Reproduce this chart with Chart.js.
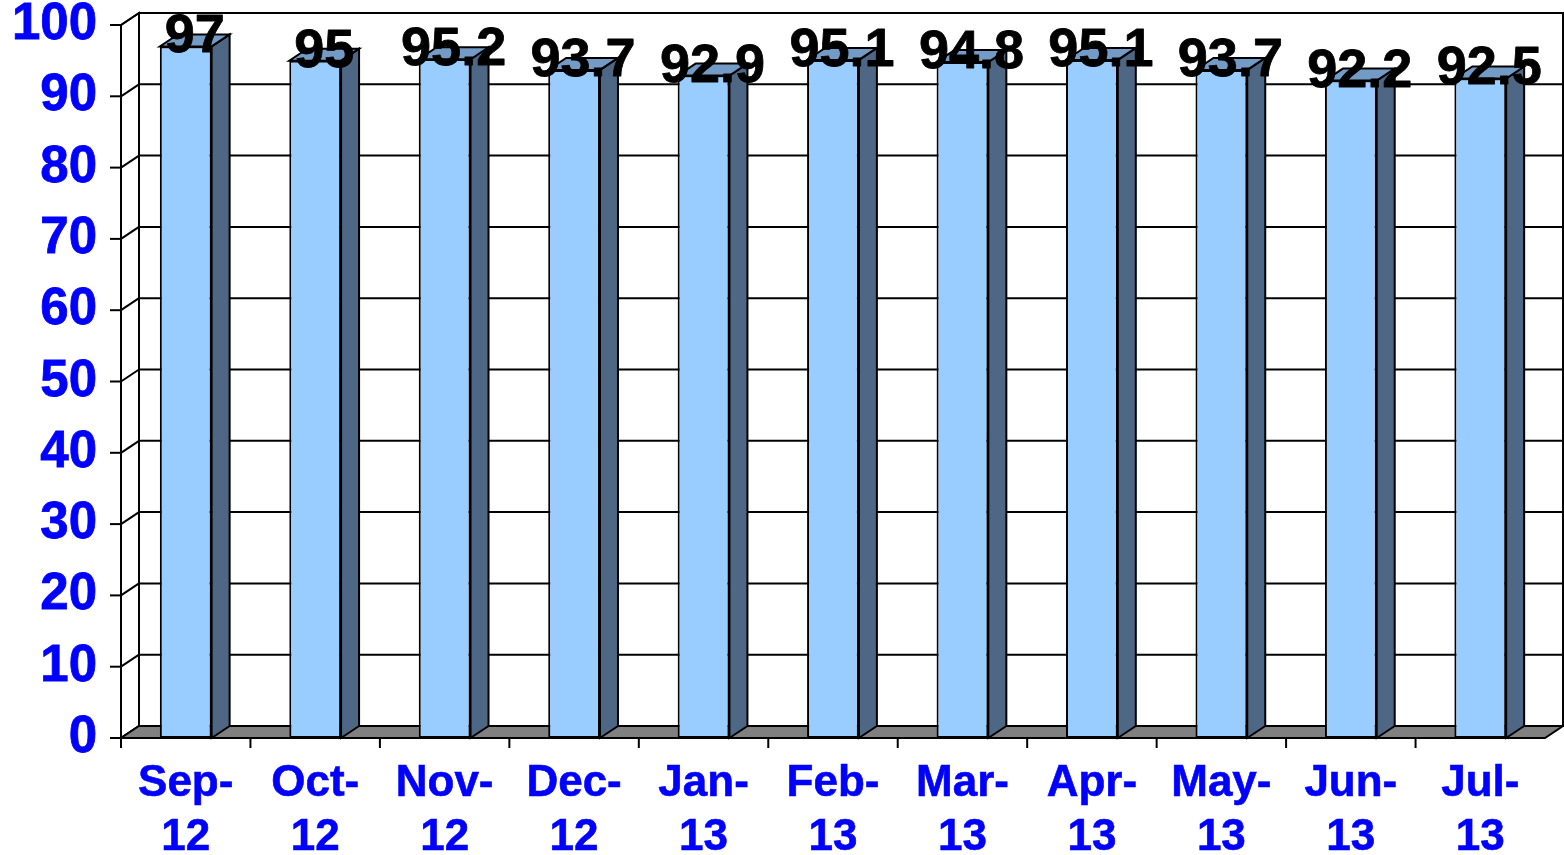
<!DOCTYPE html>
<html>
<head>
<meta charset="utf-8">
<style>
  html, body { margin: 0; padding: 0; background: #ffffff; }
  #wrap { width: 1564px; height: 855px; }
</style>
<script src="https://cdn.jsdelivr.net/npm/chart.js@4/dist/chart.umd.min.js"></script>
</head>
<body>
<div id="wrap"><canvas id="c" width="1564" height="855"></canvas></div>
<script>
// Monthly values, Sep 2012 – Jul 2013
const months = [
  ["Sep-", "12"], ["Oct-", "12"], ["Nov-", "12"], ["Dec-", "12"],
  ["Jan-", "13"], ["Feb-", "13"], ["Mar-", "13"], ["Apr-", "13"],
  ["May-", "13"], ["Jun-", "13"], ["Jul-", "13"]
];
const values = [97, 95, 95.2, 93.7, 92.9, 95.1, 94.8, 95.1, 93.7, 92.2, 92.5];
const yMin = 0;
const yMax = 100;
const yStep = 10;

// Look of the pseudo-3D box
const DEPTH_X = 18;
const DEPTH_Y = 12;
const FACE = '#99CCFF';
const SIDE = '#4D6785';
const TOP = '#739BC6';
const FLOOR = '#808080';
const INK = '#000000';
const BLUE = '#0000FF';
const FONT = '"Liberation Sans", Arial, sans-serif';

function poly(ctx, pts, fill, stroke, lw) {
  ctx.beginPath();
  ctx.moveTo(pts[0][0], pts[0][1]);
  for (let i = 1; i < pts.length; i++) ctx.lineTo(pts[i][0], pts[i][1]);
  ctx.closePath();
  if (fill) { ctx.fillStyle = fill; ctx.fill(); }
  if (stroke) { ctx.strokeStyle = stroke; ctx.lineWidth = lw; ctx.stroke(); }
}

function line(ctx, x1, y1, x2, y2, lw) {
  ctx.beginPath();
  ctx.moveTo(x1, y1);
  ctx.lineTo(x2, y2);
  ctx.strokeStyle = INK;
  ctx.lineWidth = lw;
  ctx.stroke();
}

// Walls, floor and grid behind the columns; column sides, tops and value labels over them
const boxPlugin = {
  id: 'box3d',
  beforeDatasetsDraw(chart) {
    const ctx = chart.ctx;
    const xs = chart.scales.x;
    const ys = chart.scales.y;
    const L = xs.getPixelForValue(-0.5);
    const R = xs.getPixelForValue(months.length - 0.5);
    const yTop = ys.getPixelForValue(yMax);
    const yBot = ys.getPixelForValue(yMin);
    ctx.save();
    // back wall
    poly(ctx, [[L + DEPTH_X, yTop - DEPTH_Y], [R + DEPTH_X, yTop - DEPTH_Y],
               [R + DEPTH_X, yBot - DEPTH_Y], [L + DEPTH_X, yBot - DEPTH_Y]], '#ffffff', INK, 2);
    // left wall
    poly(ctx, [[L, yTop], [L + DEPTH_X, yTop - DEPTH_Y],
               [L + DEPTH_X, yBot - DEPTH_Y], [L, yBot]], '#ffffff', INK, 2);
    // grid lines and value ticks
    for (let v = yMin; v <= yMax; v += yStep) {
      const y = ys.getPixelForValue(v);
      line(ctx, L, y, L + DEPTH_X, y - DEPTH_Y, 2);
      line(ctx, L + DEPTH_X, y - DEPTH_Y, R + DEPTH_X, y - DEPTH_Y, 2);
      line(ctx, L - 11, y, L, y, 2);
    }
    // floor
    poly(ctx, [[L, yBot], [R, yBot], [R + DEPTH_X, yBot - DEPTH_Y], [L + DEPTH_X, yBot - DEPTH_Y]],
         FLOOR, INK, 2);
    line(ctx, L, yTop, L, yBot, 2);
    // category ticks
    for (let i = 0; i < months.length; i++) {
      const x = xs.getPixelForValue(i - 0.5);
      line(ctx, x, yBot, x, yBot + 10, 2);
    }
    ctx.restore();
  },
  afterDatasetsDraw(chart) {
    const ctx = chart.ctx;
    const meta = chart.getDatasetMeta(0);
    ctx.save();
    meta.data.forEach((bar) => {
      const x0 = bar.x - bar.width / 2;
      const x1 = bar.x + bar.width / 2;
      const yT = bar.y;
      const yB = bar.base;
      // side face
      poly(ctx, [[x1, yT], [x1 + DEPTH_X, yT - DEPTH_Y], [x1 + DEPTH_X, yB - DEPTH_Y], [x1, yB]],
           SIDE, INK, 2);
      // top face
      poly(ctx, [[x0, yT], [x1, yT], [x1 + DEPTH_X, yT - DEPTH_Y], [x0 + DEPTH_X, yT - DEPTH_Y]],
           TOP, INK, 2);
    });
    // value labels
    ctx.fillStyle = INK;
    ctx.strokeStyle = INK;
    ctx.lineWidth = 0.8;
    ctx.lineJoin = 'round';
    ctx.font = 'bold 54px ' + FONT;
    ctx.textAlign = 'center';
    ctx.textBaseline = 'alphabetic';
    meta.data.forEach((bar, i) => {
      const tx = bar.x + DEPTH_X / 2;
      const ty = bar.y + 6;
      ctx.fillText(String(values[i]), tx, ty);
      ctx.strokeText(String(values[i]), tx, ty);
    });
    ctx.restore();
  }
};

new Chart(document.getElementById('c'), {
  type: 'bar',
  data: {
    labels: months,
    datasets: [{
      data: values,
      backgroundColor: FACE,
      borderColor: INK,
      borderWidth: 2,
      borderSkipped: false,
      categoryPercentage: 1,
      barPercentage: 0.4
    }]
  },
  options: {
    responsive: false,
    animation: false,
    events: [],
    layout: { padding: { left: 0, right: 19, top: 25, bottom: 0 } },
    plugins: { legend: { display: false }, tooltip: { enabled: false } },
    scales: {
      x: {
        offset: true,
        grid: { display: false, drawTicks: false },
        border: { display: false },
        ticks: {
          color: BLUE,
          textStrokeColor: BLUE,
          textStrokeWidth: 0.6,
          font: { family: FONT, weight: 'bold', size: 44, lineHeight: 1.23 },
          padding: 19,
          maxRotation: 0,
          autoSkip: false
        },
        afterFit(s) { s.height = 117; s.paddingLeft = 0; s.paddingRight = 0; }
      },
      y: {
        min: yMin,
        max: yMax,
        grid: { display: false, drawTicks: false },
        border: { display: false },
        ticks: {
          stepSize: yStep,
          color: BLUE,
          textStrokeColor: BLUE,
          textStrokeWidth: 0.8,
          font: { family: FONT, weight: 'bold', size: 51 },
          padding: 24
        },
        afterFit(s) { s.width = 121; s.paddingTop = 0; s.paddingBottom = 0; }
      }
    }
  },
  plugins: [boxPlugin]
});
</script>
</body>
</html>
